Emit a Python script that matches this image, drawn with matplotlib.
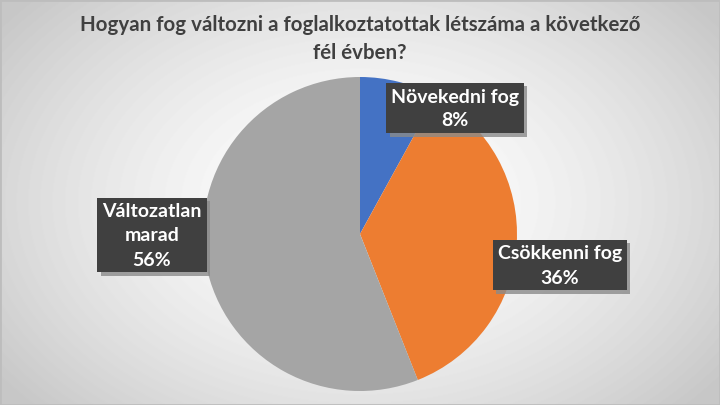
import matplotlib.pyplot as plt
import matplotlib.patheffects as pe
import numpy as np

# chart data
categories = ["Növekedni fog", "Csökkenni fog", "Változatlan\nmarad"]
shares = [8, 36, 56]
colors = ["#4472C4", "#ED7D31", "#A5A5A5"]
title = "Hogyan fog változni a foglalkoztatottak létszáma a következő\nfél évben?"

plt.rcParams['font.family'] = ['Lato', 'DejaVu Sans']

W, H = 720, 406
fig = plt.figure(figsize=(W / 100, H / 100), dpi=100)
ax = fig.add_axes([0, 0, 1, 1])

# radial gray background
yy, xx = np.mgrid[0:H, 0:W]
r = np.sqrt(((xx - W / 2) / (W * 0.62)) ** 2 + ((yy - H / 2) / (H * 0.75)) ** 2)
bg = 1.0 - 0.22 * np.clip(r, 0, 1) ** 1.6
ax.imshow(bg, cmap='gray', vmin=0, vmax=1, extent=[0, W, 0, H], zorder=0, aspect='auto')
ax.plot([0, W, W, 0, 0], [0.5, 0.5, H - 0.5, H - 0.5, 0.5], color="#BDBDBD", lw=2, zorder=1)

# pie
cx, cy, rad = 360, H - 235, 157
ax.pie(shares, colors=colors, startangle=90, counterclock=False,
       center=(cx, cy), radius=rad, frame=True,
       wedgeprops=dict(linewidth=0, zorder=2))
ax.set_xlim(0, W)
ax.set_ylim(0, H)
ax.set_aspect('equal')
ax.axis('off')

ax.text(W / 2, H - 39, title, ha='center', va='center', fontsize=14.8,
        fontweight='bold', color="#404040", linespacing=1.45, zorder=5)

# data labels
label_pos = [(455, H - 109), (560, H - 266), (152, H - 236)]
for name, val, (lx, ly) in zip(categories, shares, label_pos):
    t = ax.text(lx, ly, f"{name}\n{val}%", ha='center', va='center', fontsize=14,
                fontweight='bold', color='white', linespacing=1.5, zorder=4,
                bbox=dict(boxstyle='square,pad=0.25', fc="#404040", ec='none'))
    t.get_bbox_patch().set_path_effects(
        [pe.SimplePatchShadow(offset=(2.5, -2.5), shadow_rgbFace="#8A8A8A", alpha=0.8), pe.Normal()])

fig.savefig("out.png", dpi=100)
